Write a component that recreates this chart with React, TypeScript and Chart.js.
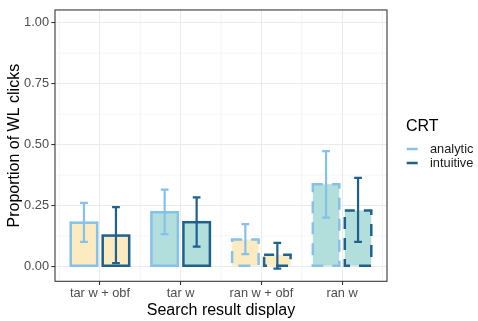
import React, { useEffect, useRef } from 'react';
import { Chart, registerables } from 'chart.js';

Chart.register(...registerables);

// ---------- data ----------
const categories = ['tar w + obf', 'tar w', 'ran w + obf', 'ran w'];
const seriesNames = ['analytic', 'intuitive'];

const analyticMean = [0.179, 0.222, 0.11, 0.337];
const analyticLow = [0.1, 0.132, 0.05, 0.2];
const analyticHigh = [0.26, 0.315, 0.173, 0.473];

const intuitiveMean = [0.126, 0.181, 0.047, 0.229];
const intuitiveLow = [0.013, 0.081, -0.01, 0.1];
const intuitiveHigh = [0.243, 0.283, 0.096, 0.363];

const yTickValues = [0, 0.25, 0.5, 0.75, 1];
const yMinorValues = [0.125, 0.375, 0.625, 0.875];
const xMinorValues = [0.5, 1.5, 2.5, 3.5, 4.5];

// ---------- styles ----------
const FONT = "'Liberation Sans', Arial, Helvetica, sans-serif";
const categoryFill = ['#fcebc0', '#b2dfdb', '#fcebc0', '#b2dfdb'];
const categoryDashed = [false, false, true, true];
const seriesLine = ['#85c1e9', '#1f618d'];

const means = [analyticMean, intuitiveMean];
const lows = [analyticLow, intuitiveLow];
const highs = [analyticHigh, intuitiveHigh];

const ggPlugin = {
  id: 'ggDecor',
  beforeDatasetsDraw(chart: any) {
    const { ctx, chartArea, scales } = chart;
    ctx.save();
    ctx.strokeStyle = '#ebebeb';
    ctx.lineWidth = 0.55;
    yMinorValues.forEach((v) => {
      const y = scales.y.getPixelForValue(v);
      ctx.beginPath();
      ctx.moveTo(chartArea.left, y);
      ctx.lineTo(chartArea.right, y);
      ctx.stroke();
    });
    xMinorValues.forEach((v) => {
      const x = scales.x.getPixelForValue(v);
      ctx.beginPath();
      ctx.moveTo(x, chartArea.top);
      ctx.lineTo(x, chartArea.bottom);
      ctx.stroke();
    });
    ctx.restore();
  },
  afterDatasetsDraw(chart: any) {
    const { ctx, scales } = chart;
    ctx.save();
    // bar outlines
    chart.data.datasets.forEach((ds: any, d: number) => {
      const meta = chart.getDatasetMeta(d);
      meta.data.forEach((el: any, i: number) => {
        const { x, y, base, width } = el.getProps(['x', 'y', 'base', 'width'], true);
        ctx.strokeStyle = seriesLine[d];
        ctx.lineWidth = 2.5;
        ctx.setLineDash(categoryDashed[i] ? [12, 9] : []);
        ctx.lineDashOffset = 2;
        ctx.strokeRect(x - width / 2, Math.min(y, base), width, Math.abs(base - y));
      });
    });
    // error bars
    ctx.setLineDash([]);
    const capHalf = scales.x.getPixelForValue(1.048) - scales.x.getPixelForValue(1);
    chart.data.datasets.forEach((ds: any, d: number) => {
      const meta = chart.getDatasetMeta(d);
      meta.data.forEach((el: any, i: number) => {
        const { x } = el.getProps(['x'], true);
        const yl = scales.y.getPixelForValue(lows[d][i]);
        const yh = scales.y.getPixelForValue(highs[d][i]);
        ctx.strokeStyle = seriesLine[d];
        ctx.lineWidth = 2.2;
        ctx.beginPath();
        ctx.moveTo(x, yl);
        ctx.lineTo(x, yh);
        ctx.moveTo(x - capHalf, yl);
        ctx.lineTo(x + capHalf, yl);
        ctx.moveTo(x - capHalf, yh);
        ctx.lineTo(x + capHalf, yh);
        ctx.stroke();
      });
    });
    ctx.restore();
  },
  afterDraw(chart: any) {
    const { ctx, chartArea } = chart;
    ctx.save();
    // panel border
    ctx.strokeStyle = '#333333';
    ctx.lineWidth = 1.07;
    ctx.strokeRect(chartArea.left, chartArea.top, chartArea.right - chartArea.left, chartArea.bottom - chartArea.top);
    // legend
    const lx = chartArea.right + 19;
    ctx.fillStyle = '#000000';
    ctx.font = `16px ${FONT}`;
    ctx.textAlign = 'left';
    ctx.textBaseline = 'alphabetic';
    ctx.fillText('CRT', lx, 130.5);
    ctx.font = `12.8px ${FONT}`;
    ctx.textBaseline = 'middle';
    seriesNames.forEach((name, k) => {
      const ky = 149 + k * 14;
      ctx.strokeStyle = seriesLine[k];
      ctx.lineWidth = 2.5;
      ctx.beginPath();
      ctx.moveTo(lx + 0.7, ky);
      ctx.lineTo(lx + 11.7, ky);
      ctx.stroke();
      ctx.fillStyle = '#1a1a1a';
      ctx.fillText(name, lx + 24, ky);
    });
    ctx.restore();
  },
};

export default function App() {
  const canvasRef = useRef<HTMLCanvasElement | null>(null);

  useEffect(() => {
    document.body.style.margin = '0';
    const canvas = canvasRef.current;
    if (!canvas) return;
    const chart = new Chart(canvas, {
      type: 'bar',
      data: {
        datasets: seriesNames.map((name, d) => ({
          label: name,
          data: categories.map((_, i) => ({ x: i + 1, y: means[d][i] })),
          backgroundColor: categoryFill,
          borderWidth: 0,
          categoryPercentage: 0.793,
          barPercentage: 0.828,
        })),
      },
      options: {
        animation: false,
        responsive: false,
        devicePixelRatio: 1,
        layout: { padding: { top: 5, right: 91, left: 0, bottom: 0 } },
        plugins: { legend: { display: false }, tooltip: { enabled: false } },
        scales: {
          x: {
            type: 'linear',
            min: 0.443,
            max: 4.557,
            offset: false,
            afterBuildTicks: (s: any) => {
              s.ticks = categories.map((_, i) => ({ value: i + 1 }));
            },
            afterFit: (s: any) => {
              s.height = 39.7;
            },
            ticks: {
              callback: (v: any) => categories[Math.round(Number(v)) - 1] ?? '',
              color: '#4d4d4d',
              font: { size: 12.8, family: FONT },
              padding: 0.5,
              autoSkip: false,
              maxRotation: 0,
            },
            grid: { color: '#ebebeb', lineWidth: 1.07, offset: false, tickColor: '#333333', tickLength: 3.7, tickWidth: 1.07 },
            border: { display: false },
            title: {
              display: true,
              text: 'Search result display',
              color: '#000000',
              font: { size: 16, family: FONT },
              padding: { top: 0, bottom: 1 },
            },
          },
          y: {
            type: 'linear',
            min: -0.0617,
            max: 1.0524,
            afterBuildTicks: (s: any) => {
              s.ticks = yTickValues.map((v) => ({ value: v }));
            },
            afterFit: (s: any) => {
              s.width = 55;
            },
            ticks: {
              callback: (v: any) => Number(v).toFixed(2),
              color: '#4d4d4d',
              font: { size: 12.8, family: FONT },
              padding: 2.3,
            },
            grid: { color: '#ebebeb', lineWidth: 1.07, tickColor: '#333333', tickLength: 3.7, tickWidth: 1.07 },
            border: { display: false },
            title: {
              display: true,
              text: 'Proportion of WL clicks',
              color: '#000000',
              font: { size: 16, family: FONT },
              padding: { top: 5, bottom: 0 },
            },
          },
        },
      },
      plugins: [ggPlugin],
    } as any);
    return () => chart.destroy();
  }, []);

  return (
    <div style={{ width: 478, height: 321 }}>
      <canvas ref={canvasRef} width={478} height={321} style={{ display: 'block' }} />
    </div>
  );
}
